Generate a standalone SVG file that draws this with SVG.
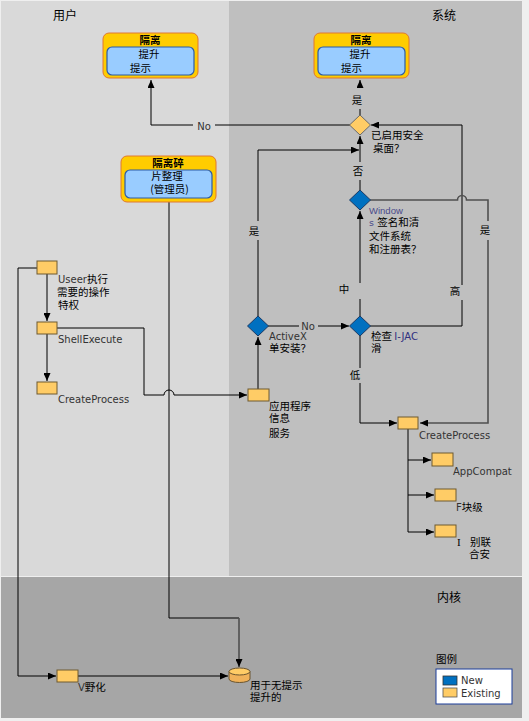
<svg xmlns="http://www.w3.org/2000/svg" width="529" height="721" viewBox="0 0 529 721">
<defs>
<style>
.t{font-family:"DejaVu Sans","Noto Sans CJK SC",sans-serif;font-size:10px;fill:#333}
.c{font-family:"Noto Sans CJK SC",sans-serif;font-size:10.5px;fill:#000}
.h{font-family:"Noto Sans CJK SC",sans-serif;font-size:12px;fill:#000}
.ti{font-family:"Noto Sans CJK SC",sans-serif;font-size:10.5px;font-weight:bold;fill:#000}
.box{fill:#ffcc66;stroke:#6e5a30;stroke-width:1}
.db{fill:#0070c0;stroke:#1a3a66;stroke-width:1}
.dy{fill:#ffcc66;stroke:#6a6a6a;stroke-width:1}
.outer{fill:#ffcc00;stroke:#e07830;stroke-width:1}
.inner{fill:#99ccff;stroke:#2a5aa8;stroke-width:1.2}
.conn{fill:none;stroke:#000;stroke-width:1}
.conn2{fill:none;stroke:#505050;stroke-width:1.6}
.bgs{fill:#bfbfbf}
.bgu{fill:#d9d9d9}
</style>
<marker id="arr" viewBox="0 0 8 7" refX="8" refY="3.5" markerWidth="8" markerHeight="7" markerUnits="userSpaceOnUse" orient="auto">
<path d="M0,0 L8,3.5 L0,7 z" fill="#000"/>
</marker>
</defs>
<rect x="0" y="0" width="529" height="721" fill="#efefef"/>
<g id="lanes">
<rect x="1" y="1" width="228" height="575" fill="#d9d9d9"/>
<rect x="229" y="1" width="293" height="575" fill="#bfbfbf"/>
<rect x="1" y="577" width="521" height="141" fill="#a6a6a6"/>
<text class="h" x="53" y="20">用户</text>
<text class="h" x="432" y="20">系统</text>
<text class="h" x="437" y="602">内核</text>
</g>
<g id="connectors">
<path class="conn" d="M350,125 H151 V80" marker-end="url(#arr)"/>
<path class="conn" d="M360,115 V80" marker-end="url(#arr)"/>
<path class="conn" d="M360,190 V136" marker-end="url(#arr)"/>
<path class="conn" d="M370,326 H462 V125 H371" marker-end="url(#arr)"/>
<path class="conn" d="M258,316 V150 H359" marker-end="url(#arr)"/>
<path class="conn" d="M268,326 H349" marker-end="url(#arr)"/>
<path class="conn" d="M360,316 V211" marker-end="url(#arr)"/>
<path class="conn" d="M360,336 V423 H397" marker-end="url(#arr)"/>
<path class="conn2" d="M370,200 H457.5 a4.5,4.5 0 0 1 9,0 H488 V423 H420" marker-end="url(#arr)"/>
<path class="conn" d="M258,389 V337" marker-end="url(#arr)"/>
<path class="conn" d="M37,268 H18 V676 H56" marker-end="url(#arr)"/>
<path class="conn2" d="M47,274 V321" marker-end="url(#arr)"/>
<path class="conn2" d="M47,334 V381" marker-end="url(#arr)"/>
<path class="conn" d="M57,328 H144 V395 H164 a5,5 0 0 1 10,0 H247" marker-end="url(#arr)"/>
<path class="conn" d="M169,202 V618 H239"/>
<path class="conn2" d="M239,618 V667" marker-end="url(#arr)"/>
<path class="conn" d="M78,676 H228" marker-end="url(#arr)"/>
<path class="conn" d="M408,429 V532"/>
<path class="conn" d="M408,460 H431" marker-end="url(#arr)"/>
<path class="conn" d="M408,495 H434" marker-end="url(#arr)"/>
<path class="conn" d="M408,532 H434" marker-end="url(#arr)"/>
<rect class="bgu" x="193" y="118" width="22" height="14"/>
<text class="t" x="204" y="129.5" text-anchor="middle" font-size="11">No</text>
<rect class="bgs" x="350" y="88" width="15" height="21"/>
<text class="c" x="357" y="104" text-anchor="middle">是</text>
<rect class="bgs" x="352" y="162" width="14" height="18"/>
<text class="c" x="358" y="175" text-anchor="middle">否</text>
<rect class="bgs" x="248" y="221" width="14" height="19"/>
<text class="c" x="254" y="235" text-anchor="middle">是</text>
<rect class="bgs" x="478" y="221" width="14" height="19"/>
<text class="c" x="485" y="234" text-anchor="middle">是</text>
<rect class="bgs" x="299" y="319" width="19" height="14"/>
<text class="t" x="308" y="330" text-anchor="middle" font-size="11">No</text>
<rect class="bgs" x="337" y="283" width="26" height="16"/>
<text class="c" x="344" y="293" text-anchor="middle">中</text>
<rect class="bgs" x="448" y="285" width="16" height="15"/>
<text class="c" x="455" y="295" text-anchor="middle">高</text>
<rect class="bgs" x="348" y="368" width="15" height="15"/>
<text class="c" x="355" y="379" text-anchor="middle">低</text>
</g>
<g id="node-prompt-user">
<rect class="outer" x="103" y="33" width="95" height="45" rx="6"/>
<rect class="inner" x="107" y="47" width="87" height="28" rx="5"/>
<text class="ti" x="150" y="44" text-anchor="middle">隔离</text>
<text class="c" x="149" y="58" text-anchor="middle">提升</text>
<text class="c" x="140.5" y="72" text-anchor="middle">提示</text>
</g>
<g id="node-prompt-system">
<rect class="outer" x="314" y="33" width="95" height="45" rx="6"/>
<rect class="inner" x="318" y="47" width="87" height="28" rx="5"/>
<text class="ti" x="361" y="44" text-anchor="middle">隔离</text>
<text class="c" x="360" y="58" text-anchor="middle">提升</text>
<text class="c" x="351.5" y="72" text-anchor="middle">提示</text>
</g>
<g id="node-defrag">
<rect class="outer" x="121" y="156" width="95" height="46" rx="6"/>
<rect class="inner" x="125" y="170" width="87" height="28" rx="5"/>
<text class="ti" x="168" y="167" text-anchor="middle">隔离碎</text>
<text class="c" x="167" y="180" text-anchor="middle">片整理</text>
<text class="c" x="169.5" y="193" text-anchor="middle">(管理员)</text>
</g>
<g id="node-secure-desktop">
<path class="dy" d="M360,115 L370.5,125 L360,135 L349.5,125 Z"/>
<text class="c" x="371" y="139">已启用安全</text>
<text class="c" x="373" y="152">桌面？</text>
</g>
<g id="node-signed">
<path class="db" d="M360,190 L370.5,200 L360,210 L349.5,200 Z"/>
<text x="369" y="214" font-family="Liberation Sans, sans-serif" font-size="9.5" fill="#4a4a8a">Window</text>
<text class="t" x="369" y="226"><tspan fill="#4a4a8a" font-size="9.5">s</tspan><tspan font-size="10.5" fill="#000"> 签名和清</tspan></text>
<text class="c" x="369" y="240">文件系统</text>
<text class="c" x="369" y="253">和注册表？</text>
</g>
<g id="node-uac">
<path class="db" d="M360,316 L370.5,326 L360,336 L349.5,326 Z"/>
<text class="c" x="371" y="340">检查 <tspan font-family="DejaVu Sans, sans-serif" font-size="10" fill="#303080">I-JAC</tspan></text>
<text class="c" x="371" y="352">滑</text>
</g>
<g id="node-activex">
<path class="db" d="M258,316 L268.5,326 L258,336 L247.5,326 Z"/>
<text class="t" x="269" y="340">ActiveX</text>
<text class="c" x="269" y="352">单安装？</text>
</g>
<g id="node-appinfo">
<rect class="box" x="248" y="389" width="21" height="12"/>
<text class="c" x="269" y="410">应用程序</text>
<text class="c" x="269" y="422">信息</text>
<text class="c" x="269" y="437">服务</text>
</g>
<g id="node-user">
<rect class="box" x="37" y="261" width="20" height="13"/>
<text class="t" x="58" y="283">Useer<tspan font-size="10.5" fill="#000">执行</tspan></text>
<text class="c" x="57" y="296">需要的操作</text>
<text class="c" x="58" y="309">特权</text>
</g>
<g id="node-shellexecute">
<rect class="box" x="37" y="322" width="20" height="12"/>
<text class="t" x="58" y="343">ShellExecute</text>
</g>
<g id="node-createprocess-user">
<rect class="box" x="37" y="382" width="20" height="12"/>
<text class="t" x="58" y="403">CreateProcess</text>
</g>
<g id="node-createprocess-system">
<rect class="box" x="398" y="417" width="20" height="12"/>
<text class="t" x="419" y="439">CreateProcess</text>
</g>
<g id="node-appcompat">
<rect class="box" x="432" y="453" width="21" height="13"/>
<text class="t" x="453" y="475">AppCompat</text>
</g>
<g id="node-fusion">
<rect class="box" x="435" y="489" width="21" height="12"/>
<text class="t" x="456" y="511">F<tspan font-size="10.5" fill="#000">块级</tspan></text>
</g>
<g id="node-installer">
<rect class="box" x="435" y="525" width="21" height="12"/>
<text x="457" y="546" font-family="Liberation Serif, serif" font-size="11" fill="#000">I</text>
<text class="c" x="470" y="546">别联</text>
<text class="c" x="469" y="558">合安</text>
</g>
<g id="node-virtualization">
<rect class="box" x="57" y="670" width="21" height="12"/>
<text class="t" x="78" y="691">V<tspan font-size="10.5" fill="#000">野化</tspan></text>
</g>
<g id="node-store">
<path d="M229,671.5 V679 A10.5,3.5 0 0 0 250,679 V671.5" fill="#f0b25a" stroke="#6a5530" stroke-width="1"/>
<ellipse cx="239.5" cy="671.5" rx="10.5" ry="3.5" fill="#ffcc66" stroke="#6a5530" stroke-width="1"/>
<text class="c" x="250" y="689">用于无提示</text>
<text class="c" x="250" y="701">提升的</text>
</g>
<g id="legend">
<text class="c" x="436" y="663">图例</text>
<rect x="436" y="669" width="76" height="35" fill="#fff" stroke="#1a3d99" stroke-width="1"/>
<rect x="443" y="676" width="14" height="9" fill="#0070c0" stroke="#333" stroke-width="0.8"/>
<rect x="443" y="688" width="14" height="9" fill="#ffcc66" stroke="#555" stroke-width="0.8"/>
<text class="t" x="461" y="684" font-size="8">New</text>
<text class="t" x="461" y="697" font-size="8">Existing</text>
</g>
</svg>
